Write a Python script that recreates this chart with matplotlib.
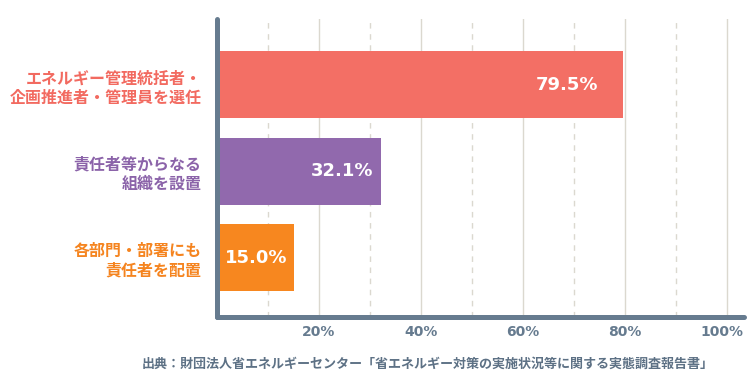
import numpy as np
import matplotlib
matplotlib.use("Agg")
import matplotlib.pyplot as plt
import matplotlib.transforms as mtransforms

plt.rcParams['font.family'] = ['Noto Sans CJK JP', 'DejaVu Sans']

# data
categories = ["エネルギー管理統括者・\n企画推進者・管理員を選任",
              "責任者等からなる\n組織を設置",
              "各部門・部署にも\n責任者を配置"]
values = [79.5, 32.1, 15.0]
bar_colors = ["#f36f65", "#9169ad", "#f7871f"]
label_colors = ["#f26a60", "#8b63a9", "#f5841f"]
tick_vals = [20, 40, 60, 80, 100]
tick_labels = ["20%", "40%", "60%", "80%", "100%"]
source = "出典：財団法人省エネルギーセンター「省エネルギー対策の実施状況等に関する実態調査報告書」"

axis_col = "#667b8f"
grid_col = "#dbd8cf"

fig = plt.figure(figsize=(7.47, 3.91), dpi=100)
ax = fig.add_axes([0.2905, 0.1905, 0.7055, 0.7605])

y = np.arange(len(values))

# grid: solid every 20, dashed in between
for g in range(10, 101, 10):
    ls = '-' if g % 20 == 0 else (0, (4, 4))
    ax.axvline(g, color=grid_col, lw=1, ls=ls, zorder=0)

ax.barh(y, values, height=0.775, color=bar_colors, zorder=2)

# value labels inside bars (offset from bar end, in px)
offsets = [-24, -7, -6]
for yi, v, off in zip(y, values, offsets):
    ax.annotate(f"{v:.1f}%", (v, yi), xytext=(off, 0), textcoords='offset pixels',
                ha='right', va='center', color='white', fontsize=13,
                fontweight='bold', family='DejaVu Sans', zorder=3)

ax.set_xlim(0, 103.3)
ax.set_ylim(2.68, -0.76)

ax.set_yticks(y)
ax.set_yticklabels(categories, fontsize=11.5, fontweight='bold', linespacing=1.25)
for lab, c in zip(ax.get_yticklabels(), label_colors):
    lab.set_color(c)
    lab.set_horizontalalignment('right')

ax.set_xticks(tick_vals)
ax.set_xticklabels(tick_labels, fontsize=10, fontweight='bold', color=axis_col,
                   family='DejaVu Sans')
ax.tick_params(axis='y', length=0, pad=11)
ax.tick_params(axis='x', length=0, pad=6)
# keep the last label inside the figure
last = ax.get_xticklabels()[-1]
last.set_transform(last.get_transform() +
                   mtransforms.ScaledTranslation(-5 / 100, 0, fig.dpi_scale_trans))

for s in ['top', 'right']:
    ax.spines[s].set_visible(False)
for s in ['left', 'bottom']:
    ax.spines[s].set_color(axis_col)
    ax.spines[s].set_linewidth(3.6)
    ax.spines[s].set_capstyle('round')
    ax.spines[s].set_zorder(4)

fig.text(142 / 747, 1 - 364 / 391, source, fontsize=9.4, fontweight='bold',
         color="#5d7185", ha='left', va='center')

fig.savefig("out.png", dpi=100)
